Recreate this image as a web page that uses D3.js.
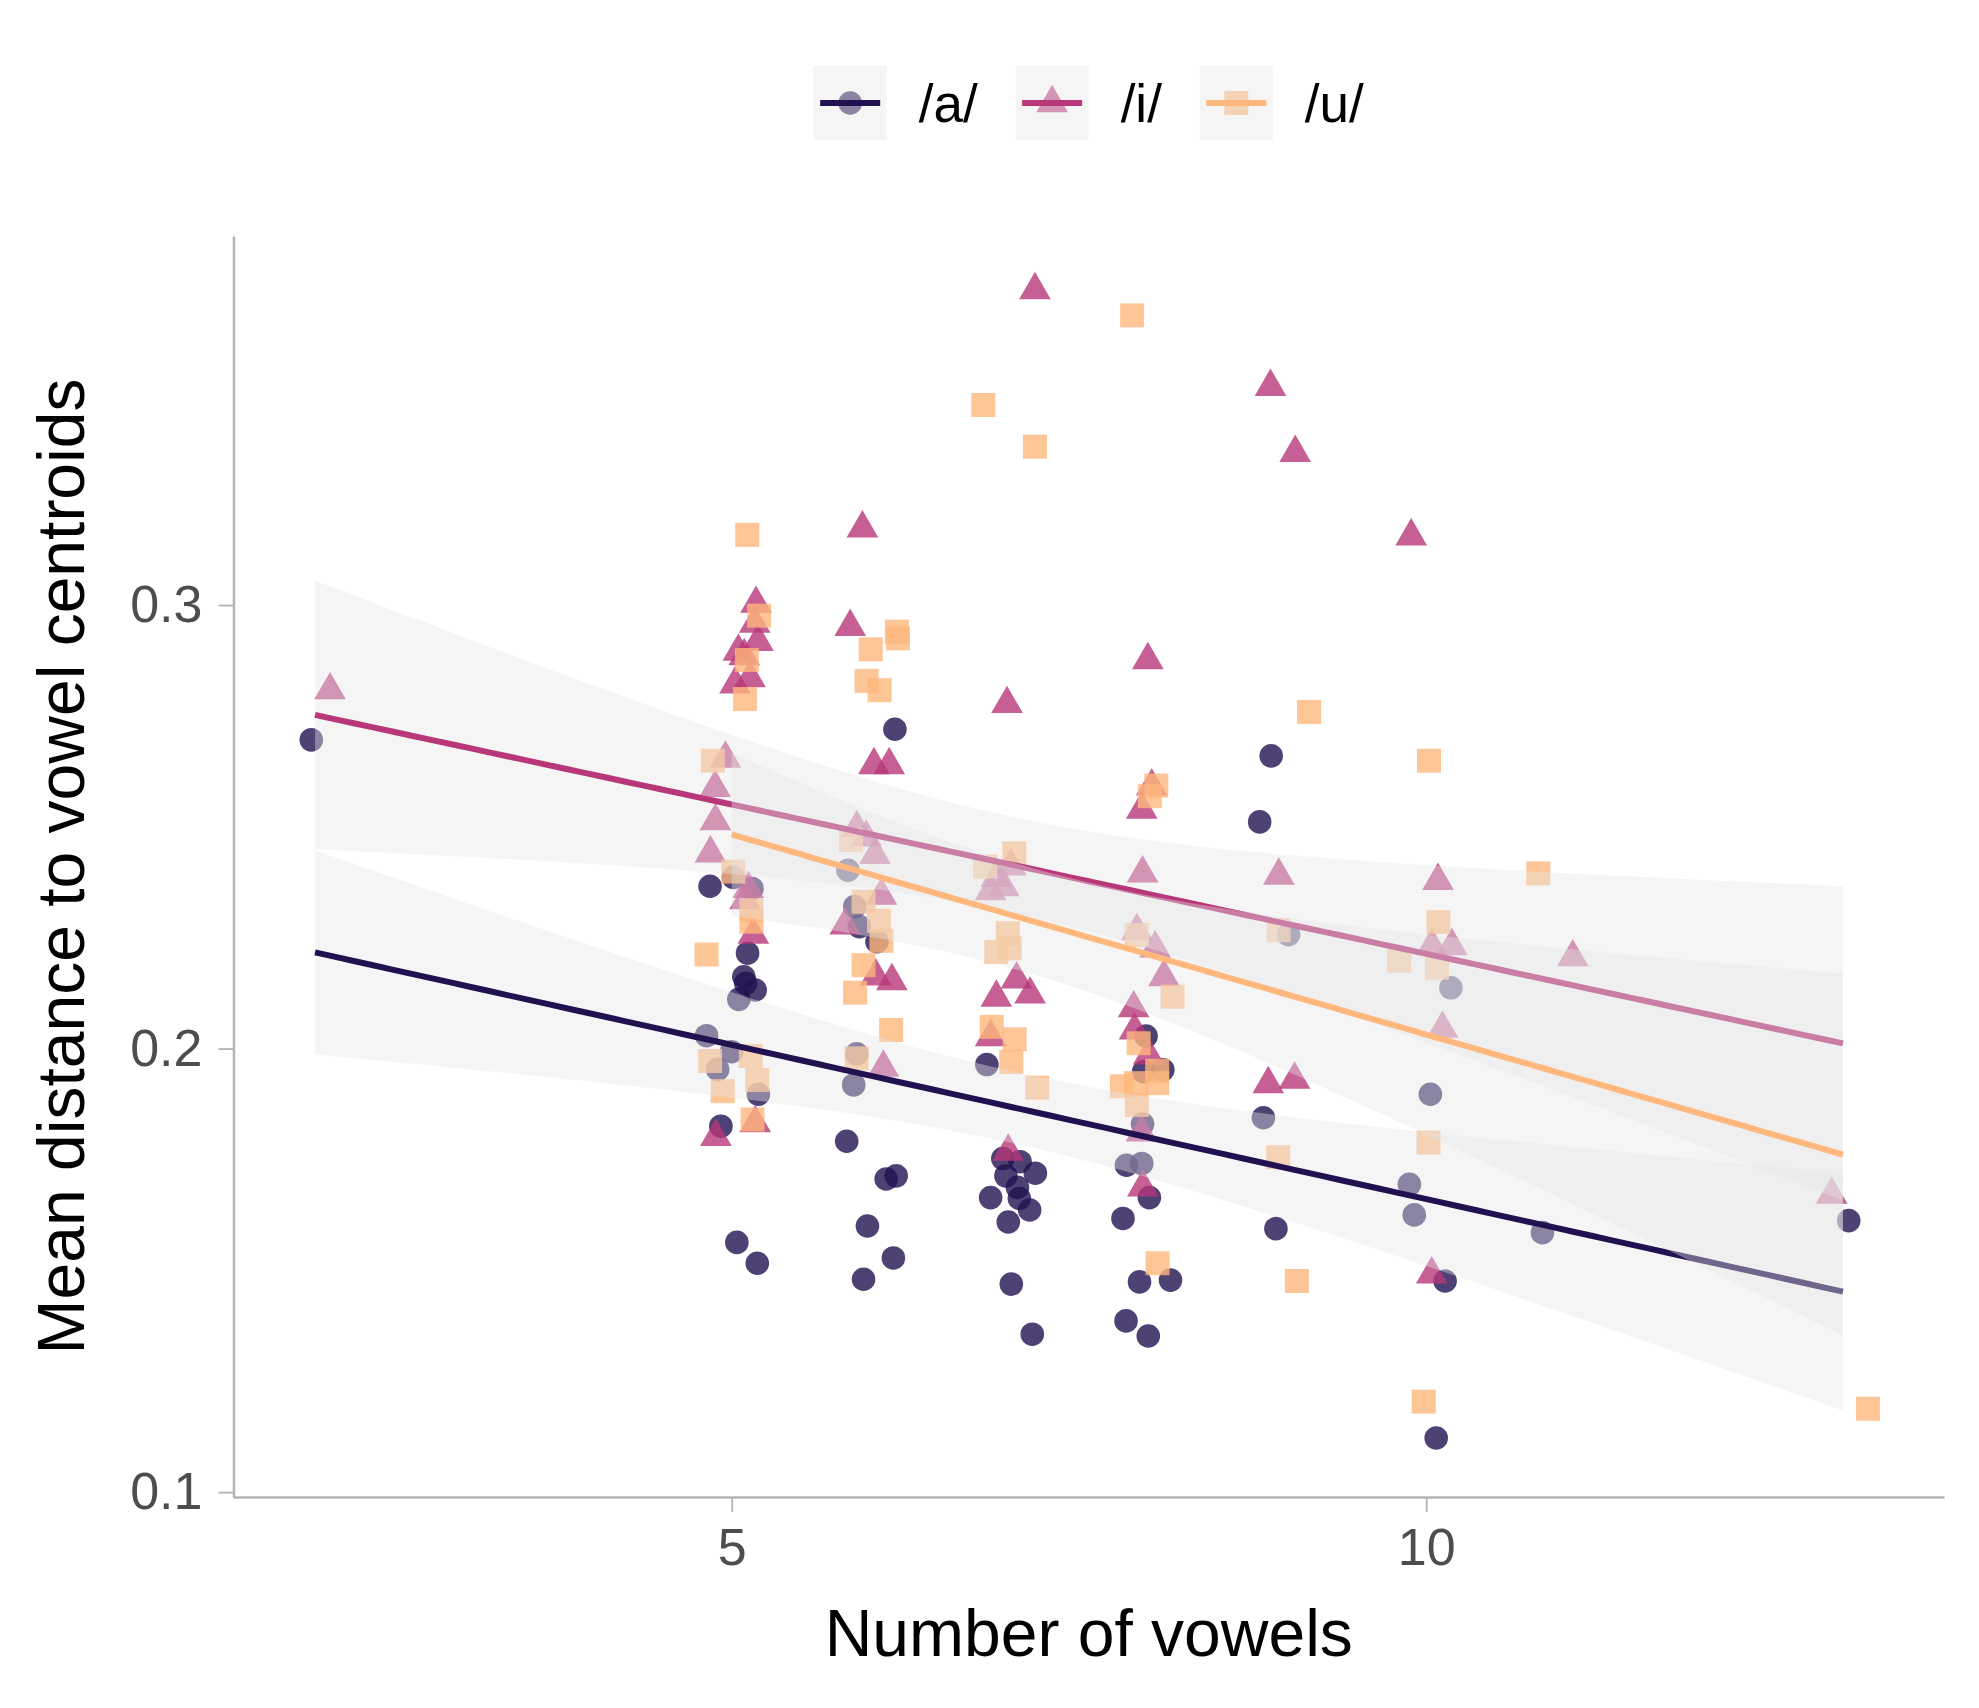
<!DOCTYPE html>
<html><head><meta charset="utf-8">
<script src="https://cdn.jsdelivr.net/npm/d3@7"></script>
<style>
body{margin:0;background:#fff}
svg{display:block}
text{font-family:"Liberation Sans", Arial, Helvetica, sans-serif}
</style>
</head><body>
<svg id="chart" width="1979" height="1708"></svg>
<script>
// ---------- data ----------
const vowels = ["/a/", "/i/", "/u/"];
const colors = ["#221150", "#b73779", "#feb77c"];
const xTicks = [5, 10];
const yTicks = [0.1, 0.2, 0.3];
const xTickLabels = ["5", "10"];
const yTickLabels = ["0.1", "0.2", "0.3"];
const xTitle = "Number of vowels";
const yTitle = "Mean distance to vowel centroids";

// /a/ (jittered number of vowels, mean distance)
const aX = [1.973,
  4.844,5.012,5.146,5.114,5.087,5.101,5.169,5.051,4.819,4.999,4.899,5.192,4.922,5.037,5.184,
  6.175,5.837,5.886,5.919,6.046,5.900,5.878,5.828,6.112,6.184,5.977,6.164,5.949,
  6.837,6.952,7.076,7.186,6.974,7.057,7.071,6.864,7.145,6.991,7.013,7.164,
  7.983,7.966,8.104,7.958,7.842,7.952,8.007,7.817,7.936,8.159,7.839,7.999,
  8.884,8.801,9.009,8.828,8.918,
  10.178,10.030,9.879,9.914,10.136,10.072,
  10.837,
  13.042];
const aY = [0.2696,
  0.2366,0.2386,0.2361,0.2215,0.2162,0.2147,0.2132,0.2111,0.2029,0.1993,0.1953,0.1897,0.1825,0.1563,0.1516,
  0.2720,0.2402,0.2320,0.2275,0.2241,0.1988,0.1918,0.1791,0.1706,0.1713,0.1600,0.1528,0.1480,
  0.1964,0.1752,0.1745,0.1719,0.1713,0.1687,0.1662,0.1664,0.1636,0.1609,0.1469,0.1356,
  0.2028,0.1948,0.1952,0.1830,0.1737,0.1741,0.1664,0.1617,0.1474,0.1478,0.1386,0.1352,
  0.2660,0.2511,0.2257,0.1844,0.1594,
  0.2137,0.1897,0.1694,0.1625,0.1476,0.1122,
  0.1585,
  0.1612];

// /i/
const iX = [2.108,
  5.175,5.166,5.189,5.048,5.090,5.132,5.024,5.156,4.886,5.169,4.955,4.880,4.883,4.847,5.120,5.096,
  5.941,5.853,6.024,6.134,6.037,6.153,5.900,5.968,6.032,6.078,5.817,6.092,
  7.183,6.982,7.051,6.905,7.148,6.864,6.991,7.010,6.905,6.960,6.864,
  7.996,8.024,7.952,7.900,7.960,8.002,7.958,7.917,8.049,8.112,7.894,7.950,
  8.879,9.057,8.939,8.863,9.052,
  9.892,10.085,10.041,10.185,10.117,10.040,
  11.055,
  12.919];
const iY = [0.2808,
  0.3003,0.2958,0.2917,0.2895,0.2885,0.2835,0.2821,0.2257,0.1801,0.1832,0.2654,0.2588,0.2513,0.2440,0.2360,0.2335,
  0.3173,0.2951,0.2639,0.2639,0.2163,0.2152,0.2497,0.2476,0.2437,0.2345,0.2278,0.1957,
  0.3710,0.2777,0.2156,0.2115,0.2122,0.2026,0.1768,0.2411,0.2385,0.2364,0.2355,
  0.2876,0.2591,0.2539,0.2041,0.1687,0.1985,0.2395,0.2265,0.2226,0.2161,0.2091,0.1811,
  0.3492,0.3343,0.2390,0.1920,0.1930,
  0.3155,0.2378,0.2231,0.2231,0.2045,0.1491,
  0.2206,
  0.1671];

// /u/
const uX = [
  5.112,5.197,5.109,5.096,4.864,5.012,5.142,5.142,4.819,4.844,5.137,5.184,4.935,5.150,
  6.001,6.189,6.197,5.971,6.065,5.859,5.949,6.060,6.078,5.949,5.888,6.148,5.900,
  6.811,7.183,7.035,6.824,6.988,6.905,7.001,6.872,7.037,7.013,7.200,
  7.883,8.057,8.010,7.916,8.174,7.930,8.063,7.809,7.911,8.063,7.916,8.066,
  9.156,8.937,8.934,9.069,
  10.020,10.088,9.806,10.078,10.017,9.982,
  10.807,
  13.180];
const uY = [
  0.3158,0.2976,0.2876,0.2788,0.2649,0.2399,0.2312,0.2286,0.2212,0.1972,0.1983,0.1929,0.1904,0.1840,
  0.2900,0.2940,0.2925,0.2829,0.2808,0.2470,0.2331,0.2288,0.2243,0.2188,0.2126,0.2042,0.1978,
  0.3451,0.3357,0.2440,0.2410,0.2260,0.2218,0.2226,0.2049,0.2021,0.1970,0.1912,
  0.3653,0.2593,0.2569,0.2256,0.2117,0.2012,0.1950,0.1915,0.1922,0.1922,0.1873,0.1516,
  0.2759,0.2267,0.1755,0.1476,
  0.2649,0.2285,0.2198,0.2182,0.1788,0.1204,
  0.2395,
  0.1188];

const xDomain = [1.413, 13.728];
const yDomain = [0.0989, 0.3832];

// ---------- layout ----------
const W = 1979, H = 1708;
const plot = {left: 233.5, right: 1944, top: 236, bottom: 1497};
const svg = d3.select("#chart");
svg.append("rect").attr("width", W).attr("height", H).attr("fill", "#fff");

const x = d3.scaleLinear().domain(xDomain).range([plot.left, plot.right]);
const y = d3.scaleLinear().domain(yDomain).range([plot.bottom, plot.top]);

const groups = [
  {name: vowels[0], xs: aX, ys: aY, color: colors[0], shape: "circle"},
  {name: vowels[1], xs: iX, ys: iY, color: colors[1], shape: "triangle"},
  {name: vowels[2], xs: uX, ys: uY, color: colors[2], shape: "square"}
];

// symbol paths
const R = 11.8, TRI = 31.7, SQ = 24;
function symbolPath(shape) {
  if (shape === "circle") {
    const p = d3.path(); p.arc(0, 0, R, 0, 2 * Math.PI); p.closePath(); return p.toString();
  }
  if (shape === "triangle") {
    const h = TRI * Math.sqrt(3) / 2;
    return `M0,${-2*h/3}L${TRI/2},${h/3}L${-TRI/2},${h/3}Z`;
  }
  return `M${-SQ/2},${-SQ/2}h${SQ}v${SQ}h${-SQ}Z`;
}

// ---------- points ----------
const pointLayer = svg.append("g");
groups.forEach(g => {
  const pts = g.xs.map((v, k) => ({x: v, y: g.ys[k]}));
  pointLayer.append("g").selectAll("path").data(pts).join("path")
    .attr("d", symbolPath(g.shape))
    .attr("transform", d => `translate(${x(d.x)},${y(d.y)})`)
    .attr("fill", g.color)
    .attr("fill-opacity", 0.8);
});

// ---------- linear fits with 95% CI ----------
function tQuantile975(df) {
  const z = 1.959964;
  const z3 = z*z*z, z5 = z3*z*z, z7 = z5*z*z;
  return z + (z3 + z) / (4*df) + (5*z5 + 16*z3 + 3*z) / (96*df*df)
    + (3*z7 + 19*z5 + 17*z3 - 15*z) / (384*df*df*df);
}
function lmFit(xs, ys) {
  const xr = xs.map(Math.round);
  const n = xr.length;
  const mx = d3.mean(xr), my = d3.mean(ys);
  let sxx = 0, sxy = 0;
  for (let k = 0; k < n; k++) { sxx += (xr[k]-mx)**2; sxy += (xr[k]-mx)*(ys[k]-my); }
  const b = sxy / sxx, a = my - b * mx;
  let sse = 0;
  for (let k = 0; k < n; k++) sse += (ys[k] - a - b*xr[k])**2;
  const s = Math.sqrt(sse / (n - 2));
  const t = tQuantile975(n - 2);
  const [lo, hi] = d3.extent(xr);
  return d3.range(80).map(k => {
    const xv = lo + (hi - lo) * k / 79;
    const f = a + b * xv;
    const se = s * Math.sqrt(1/n + (xv - mx)**2 / sxx);
    return {x: xv, f, lo: f - t*se, hi: f + t*se};
  });
}

const smoothLayer = svg.append("g");
groups.forEach(g => {
  const fitPts = lmFit(g.xs, g.ys);
  smoothLayer.append("path")
    .attr("d", d3.area().x(d => x(d.x)).y0(d => y(d.lo)).y1(d => y(d.hi))(fitPts))
    .attr("fill", "#e5e5e5").attr("fill-opacity", 0.4);
  smoothLayer.append("path")
    .attr("d", d3.line().x(d => x(d.x)).y(d => y(d.f))(fitPts))
    .attr("fill", "none").attr("stroke", g.color).attr("stroke-width", 6);
});

// ---------- axes ----------
const axisColor = "#b3b3b3";
const gx = svg.append("g").attr("transform", `translate(0,${plot.bottom})`)
  .call(d3.axisBottom(x).tickValues(xTicks).tickFormat((d, k) => xTickLabels[k])
    .tickSize(15).tickSizeOuter(0).tickPadding(16));
const gy = svg.append("g").attr("transform", `translate(${plot.left},0)`)
  .call(d3.axisLeft(y).tickValues(yTicks).tickFormat((d, k) => yTickLabels[k])
    .tickSize(15).tickSizeOuter(0).tickPadding(16));
[gx, gy].forEach(g => {
  g.select(".domain").attr("stroke", axisColor).attr("stroke-width", 2.5);
  g.selectAll(".tick line").attr("stroke", axisColor).attr("stroke-width", 1.8);
  g.selectAll(".tick text").attr("fill", "#4d4d4d").attr("font-size", 52)
    .attr("font-family", '"Liberation Sans", Arial, sans-serif');
});

// titles
svg.append("text").attr("x", (plot.left + plot.right) / 2).attr("y", 1656)
  .attr("text-anchor", "middle").attr("font-size", 66).attr("fill", "#000").text(xTitle);
svg.append("text").attr("transform", `translate(84,${(plot.top + plot.bottom) / 2}) rotate(-90)`)
  .attr("text-anchor", "middle").attr("font-size", 66).attr("fill", "#000").text(yTitle);

// ---------- legend ----------
const KEY = 73, KEYH = 74, keyY = 66, gapKL = 32, gapLK = 38;
const legend = svg.append("g");
const items = groups.map(g => {
  const it = legend.append("g");
  it.append("rect").attr("width", KEY).attr("height", KEYH).attr("fill", "#fff");
  it.append("path").attr("d", symbolPath(g.shape))
    .attr("transform", `translate(${KEY/2},${KEYH/2})`)
    .attr("fill", g.color).attr("fill-opacity", 0.8);
  it.append("rect").attr("width", KEY).attr("height", KEYH)
    .attr("fill", "#e5e5e5").attr("fill-opacity", 0.4);
  it.append("line").attr("x1", 6.5).attr("x2", KEY - 6.5).attr("y1", KEYH/2).attr("y2", KEYH/2)
    .attr("stroke", g.color).attr("stroke-width", 6);
  const t = it.append("text").attr("x", KEY + gapKL).attr("y", KEYH/2).attr("dy", "0.35em")
    .attr("font-size", 53).attr("fill", "#000").text(g.name);
  return {it, w: KEY + gapKL + t.node().getComputedTextLength()};
});
const total = d3.sum(items, d => d.w) + gapLK * (items.length - 1);
let cx = (plot.left + plot.right) / 2 - total / 2;
items.forEach(d => { d.it.attr("transform", `translate(${cx},${keyY})`); cx += d.w + gapLK; });
</script>
</body></html>
